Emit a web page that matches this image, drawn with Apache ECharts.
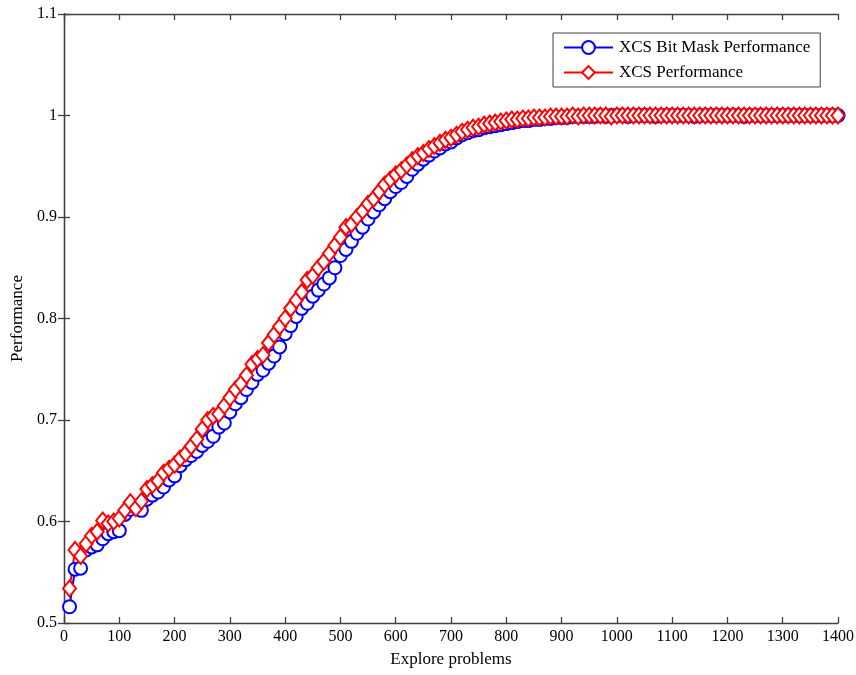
<!DOCTYPE html>
<html><head><meta charset="utf-8">
<script src="https://cdn.jsdelivr.net/npm/echarts@6/dist/echarts.min.js"></script>
<style>html,body{margin:0;padding:0;background:#fff}#c{width:856px;height:675px}</style>
</head><body><div id="c"></div>
<script>
var xTicks = [0,100,200,300,400,500,600,700,800,900,1000,1100,1200,1300,1400];
var yTicks = [0.5,0.6,0.7,0.8,0.9,1,1.1];
var explore = [];
for (var i = 10; i <= 1400; i += 10) explore.push(i);
var bitMask = [
0.516,0.553,0.554,0.572,0.575,0.577,0.583,0.588,0.590,0.591,
0.607,0.612,0.614,0.611,0.622,0.626,0.629,0.634,0.641,0.645,
0.655,0.661,0.665,0.669,0.675,0.679,0.684,0.693,0.697,0.708,
0.716,0.722,0.730,0.737,0.745,0.749,0.756,0.763,0.772,0.785,
0.793,0.802,0.810,0.815,0.822,0.828,0.834,0.840,0.850,0.862,
0.868,0.876,0.884,0.890,0.898,0.905,0.912,0.918,0.925,0.930,
0.934,0.940,0.947,0.952,0.957,0.961,0.965,0.968,0.972,0.974,
0.978,0.981,0.983,0.985,0.986,0.988,0.989,0.990,0.991,0.992,
0.993,0.994,0.995,0.995,0.996,0.996,0.997,0.997,0.998,0.998,
0.998,0.999,0.999,0.999,0.999,0.999,1.000,0.999,1.000,1.000,
1.000,0.999,1.000,1.000,1.000,1.000,0.999,1.000,1.000,1.000,
1.000,1.000,1.000,0.999,1.000,1.000,1.000,1.000,1.000,1.000,
1.000,1.000,0.999,1.000,1.000,1.000,1.000,1.000,1.000,1.000,
1.000,1.000,1.000,1.000,1.000,1.000,1.000,1.000,1.000,1.000
];
var xcs = [
0.534,0.572,0.566,0.578,0.586,0.590,0.601,0.598,0.600,0.603,
0.611,0.619,0.613,0.620,0.632,0.636,0.640,0.648,0.652,0.656,
0.662,0.667,0.674,0.681,0.691,0.700,0.704,0.706,0.714,0.722,
0.730,0.736,0.744,0.755,0.760,0.764,0.776,0.784,0.792,0.800,
0.810,0.818,0.826,0.838,0.842,0.850,0.856,0.864,0.872,0.880,
0.890,0.893,0.900,0.906,0.913,0.918,0.925,0.932,0.937,0.942,
0.946,0.951,0.956,0.960,0.963,0.967,0.970,0.973,0.976,0.978,
0.981,0.984,0.986,0.988,0.989,0.991,0.992,0.993,0.994,0.995,
0.996,0.996,0.997,0.997,0.998,0.998,0.998,0.999,0.999,0.999,
0.999,1.000,0.999,1.000,1.000,1.000,1.000,1.000,0.999,1.000,
1.000,1.000,1.000,1.000,1.000,1.000,1.000,1.000,1.000,1.000,
1.000,1.000,1.000,1.000,1.000,1.000,1.000,1.000,1.000,1.000,
1.000,1.000,1.000,1.000,1.000,1.000,1.000,1.000,1.000,1.000,
1.000,1.000,1.000,1.000,1.000,1.000,1.000,1.000,1.000,1.000
];
function pairs(ys){ return explore.map(function(x,i){ return [x, ys[i]]; }); }
var font = 'Liberation Serif';
var axisLineStyle = {color:'#404040', width:1.3};
var chart = echarts.init(document.getElementById('c'), null, {renderer:'canvas'});
chart.setOption({
  animation:false,
  backgroundColor:'#fff',
  grid:{left:64, right:18, top:14, bottom:52, containLabel:false, outerBoundsMode:'none'},
  legend:{
    left:553, top:33, orient:'vertical',
    backgroundColor:'#fff', borderColor:'#404040', borderWidth:1,
    padding:[6,10,6,10], itemGap:8, itemWidth:49, itemHeight:16,
    textStyle:{fontFamily:font, fontSize:17, color:'#000', padding:[0,0,0,1]},
    data:['XCS Bit Mask Performance','XCS Performance']
  },
  xAxis:[{
    type:'value', min:0, max:1400, interval:100, name:'Explore problems',
    nameLocation:'middle', nameGap:28,
    nameTextStyle:{fontFamily:font, fontSize:17, color:'#000'},
    axisLine:{show:true, lineStyle:axisLineStyle},
    axisTick:{show:true, inside:true, length:6, lineStyle:axisLineStyle},
    axisLabel:{fontFamily:font, fontSize:16, color:'#000', margin:6,
      formatter:function(v){ return String(v); }},
    splitLine:{show:false}
  },{
    type:'value', min:0, max:1400, interval:100, position:'top',
    axisLine:{show:true, lineStyle:axisLineStyle},
    axisTick:{show:true, inside:true, length:6, lineStyle:axisLineStyle},
    axisLabel:{show:false}, splitLine:{show:false}
  }],
  yAxis:[{
    type:'value', min:0.5, max:1.1, interval:0.1, name:'Performance',
    nameLocation:'middle', nameGap:36,
    nameTextStyle:{fontFamily:font, fontSize:17, color:'#000'},
    axisLine:{show:true, lineStyle:axisLineStyle},
    axisTick:{show:true, inside:true, length:6, lineStyle:axisLineStyle},
    axisLabel:{fontFamily:font, fontSize:16, color:'#000', margin:7,
      formatter:function(v){ var s = Math.round(v*10)/10; return s===1?'1':String(s); }},
    splitLine:{show:false}
  },{
    type:'value', min:0.5, max:1.1, interval:0.1, position:'right',
    axisLine:{show:true, lineStyle:axisLineStyle},
    axisTick:{show:true, inside:true, length:6, lineStyle:axisLineStyle},
    axisLabel:{show:false}, splitLine:{show:false}
  }],
  series:[{
    name:'XCS Bit Mask Performance', type:'line', data:pairs(bitMask),
    symbol:'emptyCircle', symbolSize:13, showAllSymbol:true,
    lineStyle:{color:'#0000ff', width:2},
    itemStyle:{color:'#0000ff', borderColor:'#0000ff', borderWidth:2},
    emphasis:{disabled:true}
  },{
    name:'XCS Performance', type:'line', data:pairs(xcs),
    symbol:'emptyDiamond', symbolSize:[13,16], showAllSymbol:true,
    lineStyle:{color:'#ff0000', width:2},
    itemStyle:{color:'#ff0000', borderColor:'#ff0000', borderWidth:2},
    emphasis:{disabled:true}
  }]
});
</script></body></html>
